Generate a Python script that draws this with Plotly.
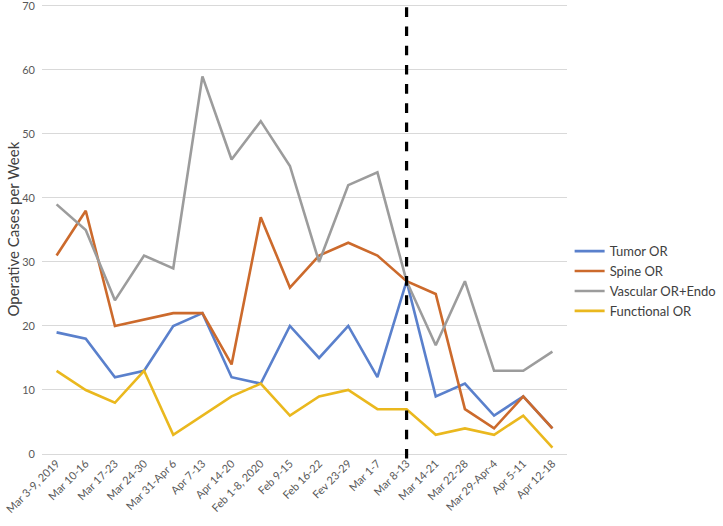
import plotly.graph_objects as go

weeks = ["Mar 3-9, 2019", "Mar 10-16", "Mar 17-23", "Mar 24-30", "Mar 31-Apr 6",
         "Apr 7-13", "Apr 14-20", "Feb 1-8, 2020", "Feb 9-15", "Feb 16-22",
         "Fev 23-29", "Mar 1-7", "Mar 8-13", "Mar 14-21", "Mar 22-28",
         "Mar 29-Apr-4", "Apr 5-11", "Apr 12-18"]

tumor = [19, 18, 12, 13, 20, 22, 12, 11, 20, 15, 20, 12, 27, 9, 11, 6, 9, 4]
spine = [31, 38, 20, 21, 22, 22, 14, 37, 26, 31, 33, 31, 27, 25, 7, 4, 9, 4]
vascular = [39, 35, 24, 31, 29, 59, 46, 52, 45, 30, 42, 44, 27, 17, 27, 13, 13, 16]
functional = [13, 10, 8, 13, 3, 6, 9, 11, 6, 9, 10, 7, 7, 3, 4, 3, 6, 1]

y_ticks = [0, 10, 20, 30, 40, 50, 60, 70]

series_names = ["Tumor OR", "Spine OR", "Vascular OR+Endo", "Functional OR"]
series_values = [tumor, spine, vascular, functional]
colors = ["#5A80CC", "#CC6A2C", "#9C9C9C", "#EAB81E"]

divider_week = "Mar 8-13"

fig = go.Figure()
for name, vals, c in zip(series_names, series_values, colors):
    fig.add_trace(go.Scatter(x=weeks, y=vals, mode="lines", name=name,
                             line=dict(color=c, width=2.6)))

fig.add_shape(type="line", xref="x", yref="paper",
              x0=weeks.index(divider_week), x1=weeks.index(divider_week),
              y0=-0.01, y1=1.0,
              line=dict(color="black", width=3.2, dash="dash"))

fig.add_annotation(text="Operative Cases per Week", xref="paper", yref="paper",
                   x=-0.056, y=0.5, xanchor="center", yanchor="middle",
                   textangle=-90, showarrow=False,
                   font=dict(size=15, color="#404040"))

fig.update_layout(
    width=723, height=526,
    margin=dict(l=42, r=156, t=4, b=72, autoexpand=False),
    paper_bgcolor="white", plot_bgcolor="white",
    font=dict(family="Lato, 'Open Sans', sans-serif", color="#595959"),
    showlegend=True,
    legend=dict(x=1.005, y=0.384, xanchor="left", yanchor="middle",
                font=dict(size=13, color="#404040"), tracegroupgap=0,
                bgcolor="rgba(0,0,0,0)"),
    xaxis=dict(type="category", tickangle=-45, tickfont=dict(size=11, color="#595959"),
               showgrid=False, showline=False, ticks="", automargin=False,
               range=[-0.5, len(weeks) - 0.5]),
    yaxis=dict(range=[0, 70.3], tickmode="array", tickvals=y_ticks,
               showgrid=True, gridcolor="#D9D9D9", gridwidth=1,
               zeroline=True, zerolinecolor="#D9D9D9", zerolinewidth=1,
               tickfont=dict(size=11, color="#595959"), ticks="", automargin=False,
               ticklabelstandoff=6, ticklabeloverflow="allow"),
)

fig.write_html("out.html", config={"displayModeBar": False},
               post_script="document.body.style.margin='0';")
